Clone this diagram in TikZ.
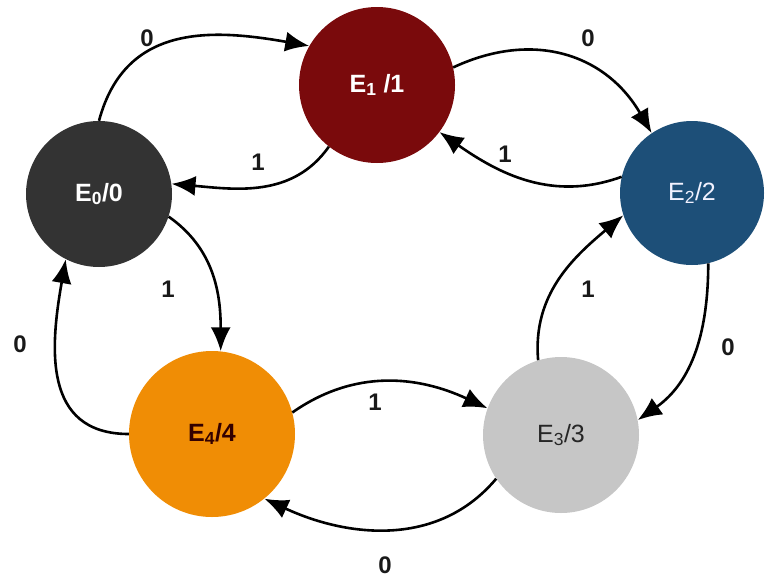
\documentclass[tikz,border=0pt]{standalone}
\usepackage{fontspec}
\setmainfont{Liberation Sans}
\usetikzlibrary{arrows.meta}

\definecolor{grauDunkel}{HTML}{333333}
\definecolor{weinrot}{HTML}{7A0A0C}
\definecolor{stahlblau}{HTML}{1D4F78}
\definecolor{grauHell}{HTML}{C6C6C6}
\definecolor{orange}{HTML}{F08D05}

\begin{document}
\begin{tikzpicture}[x=1pt, y=1pt,
    zustand/.style={circle, inner sep=0pt, font=\fontsize{25}{30}\selectfont},
    fett/.style={font=\fontsize{25}{30}\selectfont\bfseries},
    pfeil/.style={-{Latex[length=24pt,width=20pt]}, line width=2.6pt},
    marke/.style={font=\fontsize{24}{28}\selectfont\bfseries, text=black!90}]
    \useasboundingbox (0,0) rectangle (765,-581);

    % Zustaende
    \node[zustand, fett, fill=grauDunkel, minimum size=146pt, text=white] (E0) at (99,-194) {E\textsubscript{0}/0};
    \node[zustand, fett, fill=weinrot, minimum size=156pt, text=white] (E1) at (377,-85) {E\textsubscript{1} /1};
    \node[zustand, fill=stahlblau, minimum size=144pt, text=blue!5] (E2) at (692,-193) {E\textsubscript{2}/2};
    \node[zustand, fill=grauHell, minimum size=156pt, text=black!85] (E3) at (561,-435) {E\textsubscript{3}/3};
    \node[zustand, fett, fill=orange, minimum size=166pt, text=black!80!red] (E4) at (212,-434) {E\textsubscript{4}/4};

    % Uebergaenge
    \draw[pfeil] (E0.90) to[out=75, in=170, looseness=1.15] (E1.150);
    \draw[pfeil] (E1.232) to[out=235, in=-5] (E0.8);
    \draw[pfeil] (E1.13) to[out=25, in=120, looseness=1.1] (E2.124);
    \draw[pfeil] (E2.167) to[out=200, in=-35] (E1.-37);
    \draw[pfeil] (E2.283) to[out=-90, in=35] (E3.11);
    \draw[pfeil] (E3.107) to[out=95, in=220] (E2.198);
    \draw[pfeil] (E0.-18) to[out=-35, in=90] (E4.84);
    \draw[pfeil] (E4.180) to[out=180, in=-100, looseness=1.2] (E0.243);
    \draw[pfeil] (E4.15) to[out=35, in=155] (E3.160);
    \draw[pfeil] (E3.214) to[out=-130, in=-25] (E4.-51);

    % Beschriftungen
    \node[marke] (m01) at (147,-38) {0};
    \node[marke] (m10) at (258,-162) {1};
    \node[marke] (m12) at (588,-38) {0};
    \node[marke] (m21) at (505,-154) {1};
    \node[marke] (m23) at (728,-347) {0};
    \node[marke] (m32) at (588,-289) {1};
    \node[marke] (m04) at (168,-289) {1};
    \node[marke] (m40) at (20,-344) {0};
    \node[marke] (m43) at (375,-402) {1};
    \node[marke] (m34) at (385,-565) {0};
\end{tikzpicture}
\end{document}
